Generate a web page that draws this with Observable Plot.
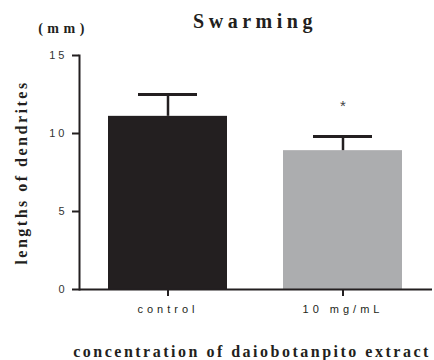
<!DOCTYPE html>
<html>
<head>
<meta charset="utf-8">
<script src="https://cdn.jsdelivr.net/npm/d3@7"></script>
<script src="https://cdn.jsdelivr.net/npm/@observablehq/plot@0.6"></script>
<style>
  html, body { margin: 0; padding: 0; background: #fff; }
</style>
</head>
<body>
<div id="chart"></div>
<script>
const categories = ["control", "10 mg/mL"];
const means = [11.1, 8.9];
const sems = [1.4, 0.9];
const marks = ["", "*"];
const yTicks = [0, 5, 10, 15];
const titleText = "Swarming";
const unitText = "(mm)";
const yLabel = "lengths of dendrites";
const xLabel = "concentration of daiobotanpito extract";

const data = categories.map((c, i) => ({cat: c, mean: means[i], top: means[i] + sems[i], mark: marks[i]}));

const ink = "#231f20";
const serif = "Liberation Serif, Times New Roman, serif";

const plot = Plot.plot({
  width: 434,
  height: 360,
  marginLeft: 79,
  marginRight: 2,
  marginTop: 55,
  marginBottom: 71,
  style: {fontFamily: "Liberation Sans, Arial, sans-serif", fontSize: "11px", color: ink, background: "#fff"},
  x: {domain: categories, paddingInner: 0.318, paddingOuter: 0.162},
  y: {domain: [0, 15]},
  color: {domain: categories, range: ["#231f20", "#acadaf"]},
  marks: [
    Plot.barY(data, {x: "cat", y: "mean", fill: "cat"}),
    Plot.ruleX(data, {x: "cat", y1: "mean", y2: "top", stroke: ink, strokeWidth: 2.5}),
    Plot.tickY(data, {x: "cat", y: "top", stroke: ink, strokeWidth: 3, insetLeft: 30, insetRight: 30}),
    Plot.text(data, {x: "cat", y: "top", text: "mark", dy: -30, fontSize: 15, fill: "#444"}),
    Plot.ruleY([0], {stroke: ink, strokeWidth: 2}),
    Plot.frame({anchor: "left", stroke: ink, strokeWidth: 2}),
    Plot.axisY({ticks: yTicks, tickSize: 7, tickPadding: 5, tickFormat: d => d, label: null, stroke: ink, strokeWidth: 2, fill: "#333"}),
    Plot.axisX({tickSize: 7, tickPadding: 9, label: null, stroke: ink, strokeWidth: 2, fill: ink}),
    Plot.text([titleText], {frameAnchor: "top", dx: -1, dy: -34, lineAnchor: "middle", fontFamily: serif, fontWeight: "bold", fontSize: 20, fill: ink}),
    Plot.text([unitText], {frameAnchor: "top-left", dx: -16, dy: -27, lineAnchor: "middle", textAnchor: "middle", fontFamily: serif, fontWeight: "bold", fontSize: 14, fill: ink}),
    Plot.text([yLabel], {frameAnchor: "left", dx: -58, dy: 0, rotate: -90, lineAnchor: "middle", textAnchor: "middle", fontFamily: serif, fontWeight: "bold", fontSize: 16, fill: ink}),
    Plot.text([xLabel], {frameAnchor: "bottom", dx: -4, dy: 62, lineAnchor: "middle", textAnchor: "middle", fontFamily: serif, fontWeight: "bold", fontSize: 16, fill: ink})
  ]
});

const svg = d3.select(plot);
svg.selectAll('g[aria-label="y-axis tick label"] text').attr("letter-spacing", 3);
svg.selectAll('g[aria-label="x-axis tick label"] text').attr("letter-spacing", 4);
svg.selectAll("text").each(function() {
  const t = this.textContent;
  if (t === titleText) this.setAttribute("letter-spacing", 4.5);
  else if (t === unitText) this.setAttribute("letter-spacing", 4.5);
  else if (t === yLabel) this.setAttribute("letter-spacing", 2.5);
  else if (t === xLabel) this.setAttribute("letter-spacing", 2.5);
});

document.getElementById("chart").appendChild(plot);
</script>
</body>
</html>
